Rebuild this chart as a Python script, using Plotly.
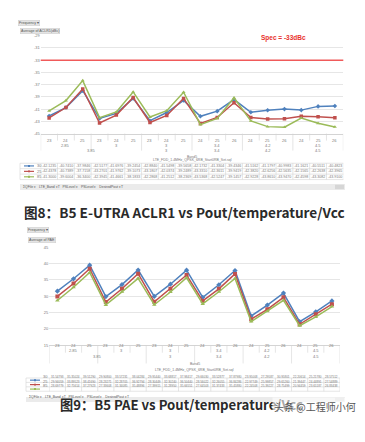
import plotly.graph_objects as go

W, H = 365, 442

# ---------------- data ----------------
categories = ["23", "24", "25", "23", "24", "25", "23", "24", "25",
              "24", "25", "26", "24", "25", "26", "24", "25", "26"]
pout_labels = ["2.85", "3", "3", "3.4", "4.2", "4.5"]          # 3 categories each
vcc_labels = ["3.85", "3", "3.4", "4.2", "4.5"]
vcc_spans = [6, 3, 3, 3, 3]                                    # categories per group
band_label = "Band5"
config_label = "LTE_FDD_1.4MHz_QPSK_6RB_Start0RB_Set.sql"
series_names = ["30", "25", "85"]

aclr_30 = [-42.1235, -40.7410, -37.9846, -42.5177, -41.6976, -39.2454, -42.8840, -41.5498, -39.5658,
           -42.1732, -41.3304, -39.4346, -41.5162, -41.1797, -40.9983, -41.1621, -40.5511, -40.4823]
aclr_25 = [-42.4378, -40.7389, -37.7158, -43.2701, -41.9762, -39.1073, -43.1807, -42.0374, -39.2489,
           -43.3310, -42.3611, -39.9419, -42.3820, -42.6256, -42.5635, -42.1565, -42.2638, -42.3965]
aclr_85 = [-41.3000, -39.6004, -36.3400, -42.3945, -41.4661, -38.1833, -42.2868, -41.2512, -38.2369,
           -43.5368, -42.5247, -39.1457, -42.9228, -43.8610, -43.9470, -42.4598, -43.3082, -43.9100]
aclr_spec = -33
aclr_ticks = [-45, -43, -41, -39, -37, -35, -33, -31, -29]

pae_30 = [31.54793, 35.35024, 39.51290, 29.90800, 33.57231, 38.04284, 29.95440, 33.68817, 37.98417,
          29.66030, 33.52877, 37.87980, 23.95008, 27.29587, 30.95801, 22.20614, 25.21780, 28.57512]
pae_25 = [29.94059, 33.89523, 38.41690, 28.23271, 32.28705, 36.92794, 28.30449, 32.30240, 36.50440,
          28.56022, 32.26055, 36.84286, 22.97749, 25.99857, 29.65260, 21.39447, 24.44891, 27.54889]
pae_85 = [28.69779, 32.75614, 37.27923, 27.33608, 31.34085, 35.48896, 27.39915, 31.28950, 35.66551,
          27.64503, 31.37433, 35.45880, 22.24508, 25.39227, 28.75499, 20.94459, 23.65187, 26.83438]
pae_ticks = [15, 20, 25, 30, 35, 40, 45]

caption1 = "图8：B5 E-UTRA ACLR1 vs Pout/temperature/Vcc"
caption2 = "图9：B5 PAE vs Pout/temperature/Vcc"
watermark = "头条 @工程师小何"

# ---------------- style ----------------
colors = ["#4f81bd", "#c0504d", "#9bbb59"]
symbols = ["diamond", "square", "triangle-up"]
GRID = "#e6e6e6"
TL = "#d4d4d4"
TXT = "#7a7a7a"
FS = 4
OFF = 8  # page body margin of the exported html


def py(p):
    return 1 - (p - OFF) / H


def pxp(p):
    return (p - OFF) / W


def tiny(text, x, y, xref="paper", size=FS, color=TXT, xanchor="center"):
    return dict(x=x, xref=xref, y=y, yref="paper", text=text, showarrow=False, xanchor=xanchor,
                borderpad=0, font=dict(size=size, color=color, family="Liberation Sans"))


fig = go.Figure()
shapes = []
ann = []

charts = [
    dict(xa="x", ya="y", xn="xaxis", yn="yaxis", x0=40.7, x1=343.3, ytop=33, ybot=132,
         series=[aclr_30, aclr_25, aclr_85], ticks=aclr_ticks, rng=[-45, -29], fmt="{:.4f}", vfs=3.6,
         rowA=135.7, rowB=140.7, rowC=145.7, rowD=152.3, rowE=158.8,
         rows=[164.7, 170.2, 175.7], tb_top=162.0, tb_bot=178.5, bar=(183, 189), left=20, msize=3.5,
         btn1=(18, 17, "Frequency ▾"), btn2=(20, 25.5, "Average of ACLR1(dBc)")),
    dict(xa="x2", ya="y2", xn="xaxis2", yn="yaxis2", x0=49.3, x1=340.0, ytop=247, ybot=346,
         series=[pae_30, pae_25, pae_85], ticks=pae_ticks, rng=[15, 45], fmt="{:.5f}", vfs=3.0,
         rowA=350.3, rowB=355.2, rowC=361.0, rowD=368.4, rowE=373.9,
         rows=[381.4, 385.9, 390.4], tb_top=379.2, tb_bot=392.6, bar=(398.5, 403.5), left=26, msize=4,
         btn1=(27, 229, "Frequency ▾"), btn2=(28, 239.5, "Average of PAE")),
]

n = len(categories)
for c in charts:
    for name, vals, col, sym in zip(series_names, c["series"], colors, symbols):
        fig.add_trace(go.Scatter(
            x=list(range(n)), y=vals, mode="lines+markers", name=name,
            line=dict(color=col, width=1.5),
            marker=dict(symbol=sym, size=c["msize"], color=col),
            xaxis=c["xa"], yaxis=c["ya"], showlegend=False, hoverinfo="skip"))

    fig.update_layout(**{
        c["xn"]: dict(domain=[pxp(c["x0"]), pxp(c["x1"])], range=[-0.5, n - 0.5],
                      showgrid=False, zeroline=False, showticklabels=False,
                      showline=True, linecolor=TL, linewidth=0.8, anchor=c["ya"], fixedrange=True),
        c["yn"]: dict(domain=[py(c["ybot"]), py(c["ytop"])], range=c["rng"],
                      tickvals=c["ticks"], ticktext=[str(t) for t in c["ticks"]],
                      tickfont=dict(size=FS, color=TXT, family="Liberation Sans"),
                      gridcolor=GRID, gridwidth=0.8, zeroline=False, showline=False,
                      ticks="", anchor=c["xa"], fixedrange=True),
    })

    xa = c["xa"]
    # category row A
    for i, lab in enumerate(categories):
        ann.append(tiny(lab, i, py(c["rowA"]), xref=xa))
    for i in range(n + 1):
        y_end = c["rowC"] + 3.5 if i % 3 == 0 else c["rowA"] + 3.3
        shapes.append(dict(type="line", xref=xa, yref="paper", x0=i - 0.5, x1=i - 0.5,
                           y0=py(c["ybot"]), y1=py(y_end), line=dict(color=TL, width=0.6)))
    # row B (Pout groups)
    for g, lab in enumerate(pout_labels):
        ann.append(tiny(lab, 3 * g + 1, py(c["rowB"]), xref=xa))
    # row C (Vcc groups)
    start = 0
    for lab, span in zip(vcc_labels, vcc_spans):
        ann.append(tiny(lab, start + (span - 1) / 2, py(c["rowC"]), xref=xa))
        start += span
    # band & config
    mid = (c["x0"] + c["x1"]) / 2
    ann.append(tiny(band_label, pxp(mid), py(c["rowD"]), size=3.5))
    ann.append(tiny(config_label, pxp(mid), py(c["rowE"]), size=3.5))
    # data table
    rh = (c["tb_bot"] - c["tb_top"]) / 3
    for k in range(4):
        yy = c["tb_top"] + k * rh
        shapes.append(dict(type="line", xref="paper", yref="paper", x0=pxp(c["left"]), x1=pxp(c["x1"]),
                           y0=py(yy), y1=py(yy), line=dict(color=TL, width=0.6)))
    for i in range(n + 1):
        shapes.append(dict(type="line", xref=xa, yref="paper", x0=i - 0.5, x1=i - 0.5,
                           y0=py(c["tb_top"]), y1=py(c["tb_bot"]), line=dict(color=TL, width=0.6)))
    shapes.append(dict(type="line", xref="paper", yref="paper", x0=pxp(c["left"]), x1=pxp(c["left"]),
                       y0=py(c["tb_top"]), y1=py(c["tb_bot"]), line=dict(color=TL, width=0.6)))
    for r, (name, vals, col, sym) in enumerate(zip(series_names, c["series"], colors, symbols)):
        yy = c["rows"][r]
        shapes.append(dict(type="line", xref="paper", yref="paper", x0=pxp(c["left"] + 4),
                           x1=pxp(c["left"] + 14), y0=py(yy), y1=py(yy), line=dict(color=col, width=1.2)))
        shapes.append(dict(type="rect", xref="paper", yref="paper", x0=pxp(c["left"] + 8),
                           x1=pxp(c["left"] + 10), y0=py(yy - 1), y1=py(yy + 1),
                           fillcolor=col, line=dict(width=0)))
        ann.append(tiny(name, pxp(c["left"] + 16), py(yy), xanchor="left"))
        for i, v in enumerate(vals):
            ann.append(tiny(c["fmt"].format(v), i, py(yy), xref=xa, size=c["vfs"]))
    # bottom field bar
    b0, b1 = c["bar"]
    shapes.append(dict(type="rect", xref="paper", yref="paper", x0=pxp(c["left"]), x1=pxp(345),
                       y0=py(b1), y1=py(b0), fillcolor="#ebebeb", line=dict(width=0)))
    shapes.append(dict(type="rect", xref="paper", yref="paper", x0=pxp(335), x1=pxp(344),
                       y0=py(b1 - 0.8), y1=py(b0 + 0.8), fillcolor="#d6d6d6", line=dict(width=0)))
    ann.append(tiny("ΣQFile ▾   LTE_Band ▾T   PSLevel ▾   PSLevel ▾   DesiredPout ▾T",
                    pxp(c["left"] + 2), py((b0 + b1) / 2), size=3.4, color="#555", xanchor="left"))
    # field buttons
    for bx, byy, txt in (c["btn1"], c["btn2"]):
        ann.append(dict(x=pxp(bx), xref="paper", y=py(byy), yref="paper", text=txt, xanchor="left",
                        showarrow=False, bgcolor="#e4e4e4", bordercolor="#cccccc", borderwidth=0.5,
                        borderpad=0.6, font=dict(size=3.6, color="#555", family="Liberation Sans")))

# spec line and label
shapes.append(dict(type="line", xref="x domain", yref="y", x0=0, x1=1, y0=aclr_spec, y1=aclr_spec,
                   line=dict(color="#f05a5a", width=1.5)))
ann.append(dict(x=pxp(308), xref="paper", y=py(29), yref="paper", text="<b>Spec = %ddBc</b>" % aclr_spec,
                showarrow=False, font=dict(size=6.5, color="#e8322c", family="Liberation Sans")))

# captions
ann.append(dict(x=pxp(184), xref="paper", y=py(211), yref="paper", text="<b>" + caption1 + "</b>",
                showarrow=False, font=dict(size=13.6, color="#2a2a2a", family="Noto Sans CJK SC")))
ann.append(dict(x=pxp(58), xref="paper", y=py(418), yref="paper", text="<b>" + caption2 + "</b>",
                xanchor="left", showarrow=False,
                font=dict(size=13.2, color="#2a2a2a", family="Noto Sans CJK SC")))
ann.append(dict(x=pxp(358), xref="paper", y=py(418), yref="paper", text=watermark, xanchor="right",
                showarrow=False, bgcolor="rgba(255,255,255,0.6)",
                font=dict(size=10, color="#555555", family="Noto Sans CJK SC")))

fig.update_layout(width=W, height=H, margin=dict(l=0, r=0, t=0, b=0),
                  paper_bgcolor="white", plot_bgcolor="white",
                  shapes=shapes, annotations=ann, showlegend=False)

fig.write_html("out.html", config={"displayModeBar": False})
